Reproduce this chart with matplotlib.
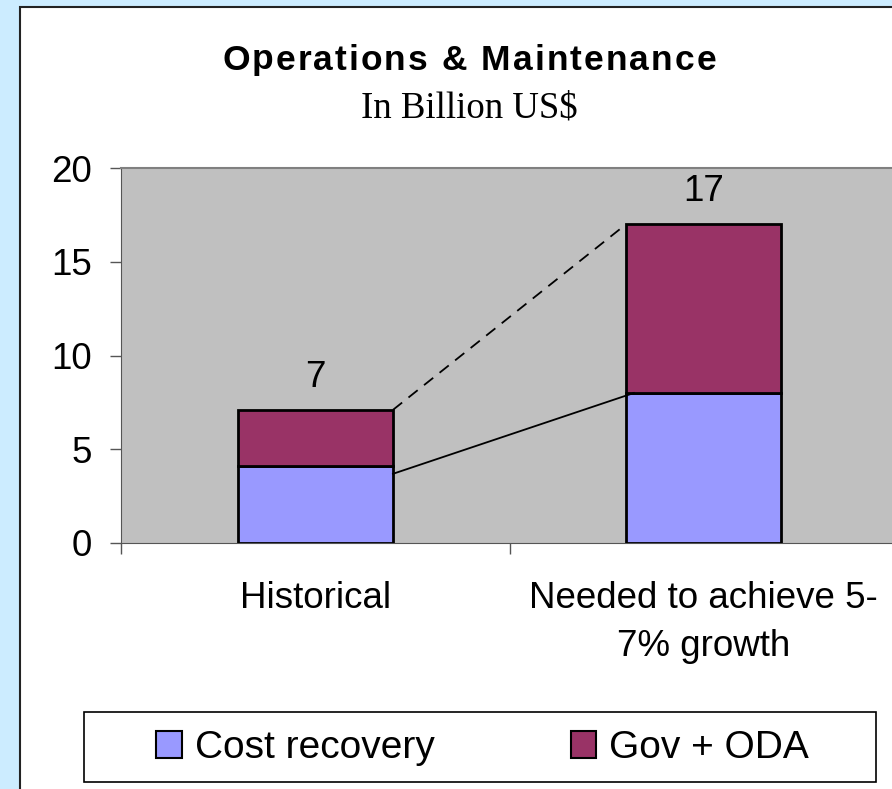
import matplotlib
matplotlib.use("Agg")
import matplotlib.pyplot as plt
from matplotlib.patches import Rectangle, Patch
import numpy as np

categories = ["Historical", "Needed to achieve 5-\n7% growth"]
cost_recovery = [4.1, 8.0]
gov_oda = [3.0, 9.0]
totals_labels = ["7", "17"]
yticks = [0, 5, 10, 15, 20]
title = "Operations & Maintenance"
subtitle = "In Billion US$"
series_names = ["Cost recovery", "Gov + ODA"]

W, H = 892, 789
fig = plt.figure(figsize=(W / 100, H / 100), dpi=100)
fig.patch.set_facecolor("#CCECFF")

# white panel
panel = Rectangle((20 / W, -0.01), 1.0, (H - 7) / H + 0.01, transform=fig.transFigure,
                  facecolor="white", edgecolor="#222222", linewidth=1.5, zorder=-10)
fig.patches.append(panel)

ax = fig.add_axes([121 / W, 246 / H, 777 / W, 375 / H])
ax.set_zorder(1)
ax.set_facecolor("#C0C0C0")
x = np.arange(len(categories))
w = 0.4
blue = "#9999FF"
maroon = "#993366"
ax.bar(x, cost_recovery, w, color=blue, edgecolor="black", linewidth=2, zorder=3)
ax.bar(x, gov_oda, w, bottom=cost_recovery, color=maroon, edgecolor="black",
       linewidth=2, zorder=3)

totals = np.array(cost_recovery) + np.array(gov_oda)
for xi, t, lab in zip(x, totals, totals_labels):
    ax.text(xi, t + 0.8, lab, ha="center", va="bottom", fontsize=26.5,
            family="Liberation Sans")

# connector lines
ax.plot([x[0] + w / 2, x[1] - w / 2], [totals[0], totals[1]], color="black",
        linestyle=(0, (6.5, 4.5)), linewidth=1.3, zorder=4)
ax.plot([x[0] + w / 2, x[1] - w / 2 + 0.02], [cost_recovery[0] * 0.9, cost_recovery[1]],
        color="black", linewidth=1.3, zorder=4)

ax.set_xlim(-0.5, 1.5)
ax.set_ylim(0, 20)
ax.set_yticks(yticks)
ax.set_yticklabels([str(v) for v in yticks], fontsize=26.5, family="Liberation Sans")
ax.tick_params(axis="y", direction="out", length=8, width=1, color="#555555", pad=13)
ax.set_xticks([-0.5, 0.5, 1.5])
ax.set_xticklabels([])
ax.tick_params(axis="x", direction="out", length=8, width=1, color="#555555")
ax.spines["right"].set_visible(False)
ax.spines["top"].set_color("#808080")
ax.spines["top"].set_linewidth(1.5)
ax.spines["left"].set_color("#555555")
ax.spines["bottom"].set_color("#555555")

for xi, lab in zip(x, categories):
    ax.text(xi, -2.05, lab, ha="center", va="top", fontsize=26.5,
            family="Liberation Sans", linespacing=1.45)

# letter-spaced bold title, laid out glyph by glyph
renderer = fig.canvas.get_renderer()
tkw = dict(fontsize=25.5, fontweight="bold", family="Liberation Sans")

def text_width(s):
    t = fig.text(0, 0, s, **tkw)
    wpx = t.get_window_extent(renderer).width
    t.remove()
    return wpx

target_w = 494.0
full_w = text_width(title)
n = len(title)
gap = (target_w - full_w) / (n - 1)
left = 469 - target_w / 2
for i, ch in enumerate(title):
    if ch == " ":
        continue
    right_edge = text_width(title[:i + 1])
    cw = text_width(ch)
    xpx = left + right_edge - cw + i * gap
    fig.text(xpx / W, 1 - 60 / H, ch, ha="left", va="center", **tkw)

fig.text(469 / W, 1 - 108 / H, subtitle, ha="center", va="center",
         fontsize=26.5, family="Liberation Serif")

# legend box
box = Rectangle((84 / W, 1 - 782 / H), (876 - 84) / W, 70 / H, transform=fig.transFigure,
                facecolor="white", edgecolor="black", linewidth=1.2, zorder=2)
fig.patches.append(box)
handles = [Patch(facecolor=blue, edgecolor="black", linewidth=1.5),
           Patch(facecolor=maroon, edgecolor="black", linewidth=1.5)]
leg = fig.legend(handles, series_names, loc="center left",
                 bbox_to_anchor=(129 / W, 1 - 748 / H), ncol=2, frameon=False,
                 prop={"family": "Liberation Sans", "size": 28},
                 handlelength=0.66, handleheight=0.7, handletextpad=0.33,
                 columnspacing=3.5, borderpad=0.2)
leg.set_zorder(3)

fig.savefig("out.png", dpi=100, facecolor=fig.get_facecolor())
